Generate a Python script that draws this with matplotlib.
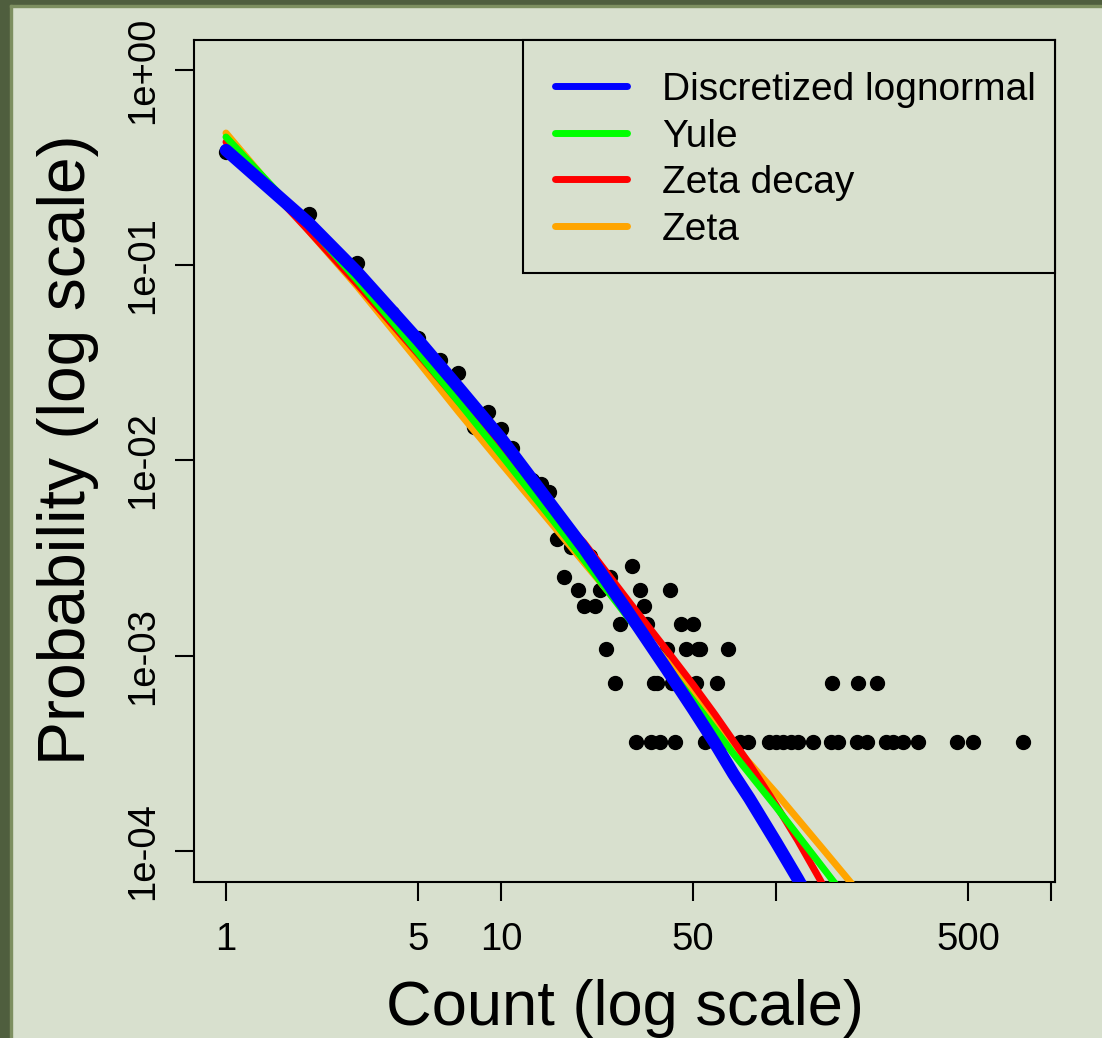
import matplotlib
matplotlib.use("Agg")
import matplotlib.pyplot as plt
from matplotlib.lines import Line2D
from matplotlib.patches import Rectangle

plt.rcParams['font.family'] = ['Liberation Sans', 'DejaVu Sans']

BG = "#d8e0ce"
BORDER = "#4f5e3e"

# observed counts and how many items had each count (out of N)
N = 2766
counts = [1, 2, 3, 4, 5, 6, 7, 8, 9, 10, 11, 12, 13, 14, 15, 16, 17, 18, 19, 20,
          21, 22, 23, 24, 25, 26, 27, 30, 31, 32, 33, 34, 35, 36, 37, 38, 40, 41,
          42, 43, 45, 47, 50, 51, 52, 53, 55, 60, 61, 66, 67, 74, 79, 94, 100,
          106, 113, 120, 136, 158, 160, 168, 197, 199, 214, 232, 251, 266, 290,
          328, 454, 522, 793]
freq = [1051, 506, 284, 157, 117, 90, 78, 41, 49, 40, 32, 23, 22, 21, 19, 11, 7, 10, 6, 5,
        9, 5, 6, 3, 7, 2, 4, 8, 1, 6, 5, 4, 1, 2, 2, 1, 3, 6,
        2, 1, 4, 3, 4, 2, 3, 3, 1, 1, 2, 1, 3, 1, 1, 1, 1,
        1, 1, 1, 1, 1, 2, 1, 1, 2, 1, 2, 1, 1, 1,
        1, 1, 1, 1]
prob = [f / N for f in freq]

# fitted curves
lnorm_k = [1, 2, 3, 5, 7, 10, 15, 20, 30, 40, 50, 60, 70, 80, 100, 120, 125]
lnorm_p = [0.389, 0.1646, 0.0923, 0.0414, 0.0237, 0.0130, 0.0061, 0.00356, 0.00156,
           0.000855, 0.000531, 0.000356, 0.000248, 0.000186, 0.000111, 0.0000719, 0.0000649]

yule_k = [1, 2, 3, 4, 5, 7, 10, 15, 20, 30, 40, 50, 70, 100, 130, 165]
yule_p = [0.454, 0.160, 0.0837, 0.052, 0.0356, 0.0200, 0.0107, 0.0052, 0.0031, 0.00147,
          0.00089, 0.00059, 0.000315, 0.000168, 0.000104, 0.0000673]

zdecay_k = [1, 2, 3, 5, 7, 10, 15, 20, 30, 40, 50, 60, 70, 80, 100, 120, 145, 150]
zdecay_p = [0.428, 0.150, 0.080, 0.035, 0.0201, 0.0113, 0.00585, 0.0038, 0.00180,
            0.00107, 0.00071, 0.000500, 0.000366, 0.000279, 0.000172, 0.000113,
            0.0000707, 0.0000646]

zeta_k = [1, 2, 3, 5, 7, 10, 15, 20, 30, 40, 50, 70, 100, 150, 190]
zeta_p = [0.476, 0.150, 0.078, 0.0322, 0.0178, 0.0097, 0.0049, 0.00301, 0.00152,
          0.00094, 0.00065, 0.00035, 0.000198, 0.000100, 0.000067]

fig = plt.figure(figsize=(11.02, 10.38), dpi=100, facecolor=BG)

# dark frame on the top and left edge
fig.patches.append(Rectangle((0, 1 - 5 / 1038), 1, 5 / 1038, transform=fig.transFigure,
                             color=BORDER, zorder=0))
fig.patches.append(Rectangle((0, 0), 10 / 1102, 1, transform=fig.transFigure,
                             color=BORDER, zorder=0))
fig.patches.append(Rectangle((10 / 1102, 1 - 7 / 1038), 1, 2 / 1038, transform=fig.transFigure,
                             color="#7d8f60", zorder=0))
fig.patches.append(Rectangle((10 / 1102, 0), 2 / 1102, 1 - 5 / 1038, transform=fig.transFigure,
                             color="#7d8f60", zorder=0))

ax = fig.add_axes([194 / 1102, 1 - 882 / 1038, 861 / 1102, 842 / 1038])
ax.set_facecolor(BG)

ax.plot(counts, prob, 'o', color='black', markersize=10, zorder=2)
ax.plot(zeta_k, zeta_p, color='orange', lw=5, solid_capstyle='round', zorder=3)
ax.plot(zdecay_k, zdecay_p, color='red', lw=5, solid_capstyle='round', zorder=3)
ax.plot(yule_k, yule_p, color='#00ff00', lw=5, solid_capstyle='round', zorder=3)
ax.plot(lnorm_k, lnorm_p, color='blue', lw=9, solid_capstyle='round', zorder=4)

ax.set_xscale('log')
ax.set_yscale('log')
ax.set_xlim(0.765, 1034)
ax.set_ylim(6.93e-5, 1.426)

xt = [1, 5, 10, 50, 100, 500, 1000]
xt_labels = ['1', '5', '10', '50', '', '500', '']
yt = [1, 0.1, 0.01, 0.001, 0.0001]
yt_labels = ['1e+00', '1e-01', '1e-02', '1e-03', '1e-04']
ax.set_xticks(xt)
ax.set_xticklabels(xt_labels)
ax.set_yticks(yt)
ax.set_yticklabels(yt_labels, rotation=90, va='center')
ax.minorticks_off()
ax.tick_params(axis='both', length=13.7, width=1.5, labelsize=27.5, color='black')
ax.tick_params(axis='x', pad=15)
ax.tick_params(axis='y', pad=10)
for s in ax.spines.values():
    s.set_linewidth(1.5)

# legend box (R style: flush with the top right corner)
ax.add_patch(Rectangle((329 / 861, 609 / 842), 532 / 861, 233 / 842, transform=ax.transAxes,
                       facecolor=BG, edgecolor='black', linewidth=1.5, zorder=6,
                       clip_on=False))
handles = [Line2D([], [], color='blue', lw=5, solid_capstyle='round'),
           Line2D([], [], color='#00ff00', lw=5, solid_capstyle='round'),
           Line2D([], [], color='red', lw=5, solid_capstyle='round'),
           Line2D([], [], color='orange', lw=5, solid_capstyle='round')]
leg = ax.legend(handles, ['Discretized lognormal', 'Yule', 'Zeta decay', 'Zeta'],
                loc='upper right', bbox_to_anchor=(1.0105, 0.9952), borderaxespad=0,
                fontsize=28, frameon=False, handlelength=1.85, handletextpad=0.9,
                borderpad=0.72, labelspacing=0.27)
leg.set_zorder(7)

fig.text(624.5 / 1102, 1 - 1025 / 1038, 'Count (log scale)', fontsize=45.5,
         ha='center', va='baseline')
fig.text(68 / 1102, 1 - 450 / 1038, 'Probability (log scale)', fontsize=47.5,
         ha='center', va='center', rotation=90)

fig.savefig('out.png', dpi=100, facecolor=BG)
